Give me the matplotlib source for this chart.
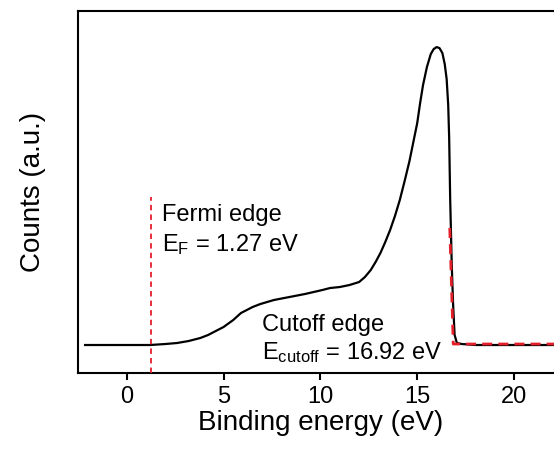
import matplotlib
matplotlib.use("Agg")
import matplotlib.pyplot as plt

plt.rcParams['font.family'] = ['Liberation Sans', 'DejaVu Sans']
plt.rcParams['mathtext.default'] = 'regular'

# UPS spectrum (binding energy in eV, counts in a.u.)
energy = [-2.15, -1.0, 0.0, 1.2, 2.0, 2.6, 3.2, 3.8, 4.2, 4.5, 5.0, 5.5, 5.9,
          6.2, 6.5, 6.9, 7.6, 8.4, 9.2, 10.1, 10.5, 11.0, 11.5, 12.0, 12.3,
          12.6, 12.85, 13.1, 13.35, 13.6, 13.85, 14.1, 14.35, 14.6, 14.8,
          15.0, 15.15, 15.3, 15.5, 15.7, 15.85, 16.0, 16.15, 16.3, 16.42,
          16.52, 16.6, 16.65, 16.7, 16.78, 16.85, 16.93, 17.05, 17.3, 18.0,
          20.0, 22.5]
counts = [28, 28, 28, 28, 29, 30, 32, 35, 38, 41, 46, 53, 60,
          63, 66, 69, 73, 76, 79, 83, 85, 86, 88, 91, 96,
          103, 111, 120, 131, 143, 157, 173, 192, 212, 231,
          250, 270, 288, 306, 319, 324, 326, 325, 320, 309,
          294, 268, 235, 176, 110, 70, 38, 30, 29, 28,
          28, 28]

# linear fits of the cutoff edge
fit_x = [16.68, 16.86, 22.5]
fit_y = [145, 29, 29]

fermi = 1.27
fermi_top = 176
cutoff = 16.92

xticks = [0, 5, 10, 15, 20]

fig = plt.figure(figsize=(5.54, 4.53), dpi=100)
ax = fig.add_axes([0.1413, 0.1766, 0.874, 0.800])

ax.plot(energy, counts, color='black', lw=1.6, zorder=2)
ax.plot(fit_x, fit_y, color='#e3202a', lw=2.0, ls=(0, (3.6, 2.2)), zorder=3)
ax.plot([fermi, fermi], [0, fermi_top], color='#e3202a', lw=1.3,
        ls=(0, (3.0, 2.3)), zorder=3)

ax.text(1.83, 152, 'Fermi edge', fontsize=17, ha='left', va='baseline')
ax.text(1.83, 122, 'E$_{F}$ = %.2f eV' % fermi, fontsize=17,
        ha='left', va='baseline')
ax.text(6.99, 42, 'Cutoff edge', fontsize=17, ha='left', va='baseline')
ax.text(6.99, 14, 'E$_{cutoff}$ = %.2f eV' % cutoff, fontsize=17,
        ha='left', va='baseline')

ax.set_xlim(-2.5, 22.5)
ax.set_ylim(0, 362.5)
ax.set_xticks(xticks)
ax.set_yticks([])
ax.tick_params(axis='x', direction='out', length=5, width=1.5,
               labelsize=17, pad=4)
for s in ax.spines.values():
    s.set_linewidth(1.5)

ax.set_xlabel('Binding energy (eV)', fontsize=20, labelpad=2)
ax.set_ylabel('Counts (a.u.)', fontsize=20, labelpad=23)

fig.savefig('out.png', dpi=100)
